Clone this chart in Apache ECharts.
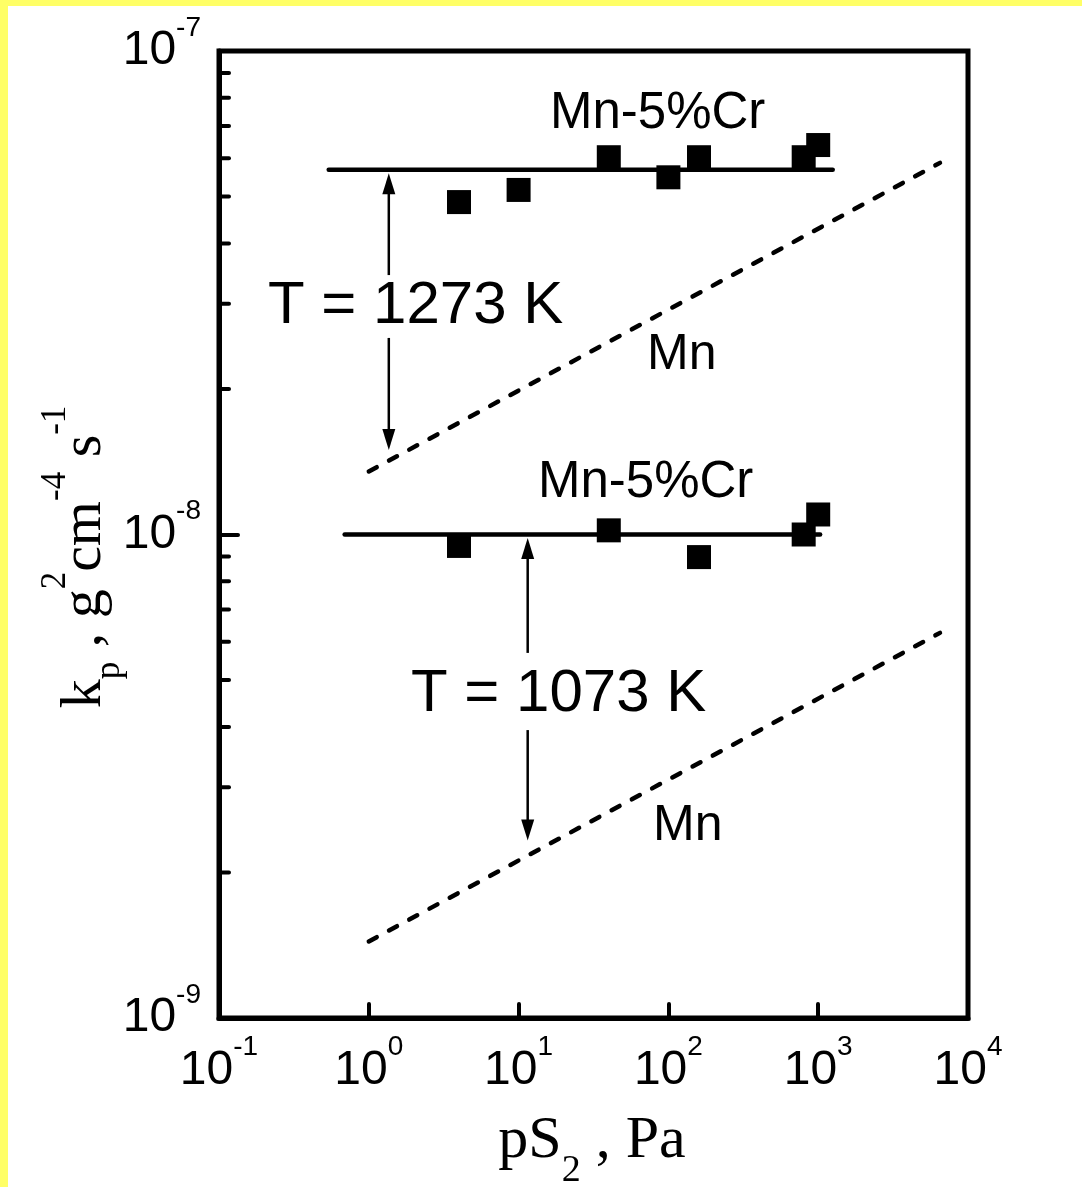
<!DOCTYPE html>
<html>
<head>
<meta charset="utf-8">
<script src="https://cdn.jsdelivr.net/npm/echarts@6/dist/echarts.min.js"></script>
<style>
  html, body { margin: 0; padding: 0; width: 1082px; height: 1187px; overflow: hidden; background: #ffff66; }
  #chart { position: absolute; left: 8px; top: 6px; width: 1074px; height: 1181px; background: #ffffff; }
</style>
</head>
<body>
<div id="chart"></div>
<script>
// Parabolic rate constant of Mn-5%Cr versus sulphur pressure
const pressure1273 = [4, 10, 40, 100, 160, 800, 1000];
const kp1273 = [4.87e-8, 5.16e-8, 6.03e-8, 5.48e-8, 6.03e-8, 6.03e-8, 6.39e-8];
const pressure1073 = [4, 40, 160, 800, 1000];
const kp1073 = [9.47e-9, 1.02e-8, 8.98e-9, 1.0e-8, 1.10e-8];

// Pressure-independent level drawn through the alloy points
const fit1273 = [[0.54, 5.68e-8], [1250, 5.68e-8]];
const fit1073 = [[0.69, 1.0e-8], [1030, 1.0e-8]];

// Pure Mn reference lines (dashed)
const mn1273 = [[1, 1.35e-8], [6500, 5.87e-8]];
const mn1073 = [[1, 1.44e-9], [6500, 6.26e-9]];

// Arrows: [pS2, start k_p, tip k_p]
const arrows = [
  [1.36, 3.44e-8, 5.59e-8],
  [1.36, 2.55e-8, 1.496e-8],
  [11.5, 5.69e-9, 9.83e-9],
  [11.5, 3.94e-9, 2.33e-9]
];

// Axis ranges and the intermediate ticks of the log k_p axis
const xRange = [0.1, 10000];
const yRange = [1e-9, 1e-7];
const minorTicksY = [2e-9, 3e-9, 4e-9, 5e-9, 6e-9, 7e-9, 8e-9, 9e-9,
                     2e-8, 3e-8, 4e-8, 5e-8, 6e-8, 7e-8, 8e-8, 9e-8];

const SANS = 'Liberation Sans, Arial, sans-serif';
const SERIF = 'Liberation Serif, Times New Roman, serif';

function pairs(xs, ys) { return xs.map((x, i) => [x, ys[i]]); }
function powLabel(v) { return '{m|10}{s|' + Math.round(Math.log10(v)) + '}'; }

const chart = echarts.init(document.getElementById('chart'), null, { renderer: 'canvas' });

const lineBase = { type: 'line', symbol: 'none', silent: true, z: 3 };

chart.setOption({
  animation: false,
  backgroundColor: '#ffffff',
  grid: {
    left: 211, top: 45, right: 114, bottom: 169,
    show: true, borderColor: '#000', borderWidth: 5, backgroundColor: 'transparent'
  },
  xAxis: {
    type: 'log', logBase: 10, min: xRange[0], max: xRange[1],
    axisLine: { lineStyle: { color: '#000', width: 5 } },
    axisTick: { inside: true, length: 14, lineStyle: { color: '#000', width: 4, cap: 'round' } },
    splitLine: { show: false },
    axisLabel: {
      margin: 29, formatter: powLabel, color: '#000',
      rich: {
        m: { fontSize: 48, lineHeight: 48, fontFamily: SANS, color: '#000' },
        s: { fontSize: 28, lineHeight: 28, fontFamily: SANS, color: '#000', padding: [0, 0, 48, 0] }
      }
    }
  },
  yAxis: {
    type: 'log', logBase: 10, min: yRange[0], max: yRange[1],
    axisLine: { lineStyle: { color: '#000', width: 5 } },
    axisTick: { inside: true, length: 19, lineStyle: { color: '#000', width: 4, cap: 'round' } },
    splitLine: { show: false },
    axisLabel: {
      margin: 18, formatter: powLabel, color: '#000',
      rich: {
        m: { fontSize: 48, lineHeight: 48, fontFamily: SANS, color: '#000' },
        s: { fontSize: 28, lineHeight: 28, fontFamily: SANS, color: '#000', padding: [0, 0, 46, 0] }
      }
    }
  },
  series: [
    Object.assign({}, lineBase, { name: 'fit 1273 K', data: fit1273,
      lineStyle: { color: '#000', width: 4.5, cap: 'round' } }),
    Object.assign({}, lineBase, { name: 'fit 1073 K', data: fit1073,
      lineStyle: { color: '#000', width: 4.5, cap: 'round' } }),
    Object.assign({}, lineBase, { name: 'Mn 1273 K', data: mn1273,
      lineStyle: { color: '#000', width: 4.5, type: [9, 14], cap: 'round' } }),
    Object.assign({}, lineBase, { name: 'Mn 1073 K', data: mn1073,
      lineStyle: { color: '#000', width: 4.5, type: [9, 14], cap: 'round' } }),
    { type: 'scatter', name: 'Mn-5%Cr 1273 K', data: pairs(pressure1273, kp1273),
      symbol: 'rect', symbolSize: 24, itemStyle: { color: '#000', opacity: 1 }, z: 4, silent: true },
    { type: 'scatter', name: 'Mn-5%Cr 1073 K', data: pairs(pressure1073, kp1073),
      symbol: 'rect', symbolSize: 24, itemStyle: { color: '#000', opacity: 1 }, z: 4, silent: true },
    {
      type: 'custom', name: 'arrows', data: arrows, silent: true, z: 5,
      encode: { x: 0, y: [1, 2] },
      renderItem: function (params, api) {
        const a = api.coord([api.value(0), api.value(1)]);
        const b = api.coord([api.value(0), api.value(2)]);
        const dir = b[1] > a[1] ? 1 : -1;
        const head = 21, half = 6.5;
        const base = b[1] - dir * head;
        return {
          type: 'group',
          children: [
            { type: 'line', shape: { x1: a[0], y1: a[1], x2: b[0], y2: base + dir * 2 },
              style: { stroke: '#000', lineWidth: 2.5 } },
            { type: 'polygon', shape: { points: [[b[0], b[1]], [b[0] - half, base], [b[0] + half, base]] },
              style: { fill: '#000' } }
          ]
        };
      }
    },
    {
      type: 'custom', name: 'minor ticks', silent: true, z: 5,
      data: minorTicksY.map(v => [xRange[0], v]),
      encode: { x: 0, y: 1 },
      renderItem: function (params, api) {
        const p = api.coord([api.value(0), api.value(1)]);
        return { type: 'line', shape: { x1: p[0], y1: p[1], x2: p[0] + 10, y2: p[1] },
                 style: { stroke: '#000', lineWidth: 4, lineCap: 'round' } };
      }
    }
  ],
  graphic: [
    { type: 'text', x: 542, y: 108, style: { text: 'Mn-5%Cr', font: '51px ' + SANS, fill: '#000', align: 'left', verticalAlign: 'middle' } },
    { type: 'text', x: 530, y: 477, style: { text: 'Mn-5%Cr', font: '51px ' + SANS, fill: '#000', align: 'left', verticalAlign: 'middle' } },
    { type: 'text', x: 260, y: 300, style: { text: 'T = 1273 K', font: '60px ' + SANS, fill: '#000', align: 'left', verticalAlign: 'middle' } },
    { type: 'text', x: 403, y: 688, style: { text: 'T = 1073 K', font: '60px ' + SANS, fill: '#000', align: 'left', verticalAlign: 'middle' } },
    { type: 'text', x: 639, y: 349, style: { text: 'Mn', font: '50px ' + SANS, fill: '#000', align: 'left', verticalAlign: 'middle' } },
    { type: 'text', x: 645, y: 820, style: { text: 'Mn', font: '50px ' + SANS, fill: '#000', align: 'left', verticalAlign: 'middle' } },
    {
      type: 'text', x: 584, y: 1135,
      style: {
        text: '{n|pS}{b|2}{n| , Pa}', align: 'center', verticalAlign: 'middle',
        rich: {
          n: { fontSize: 60, lineHeight: 60, fontFamily: SERIF, fill: '#000' },
          b: { fontSize: 38, lineHeight: 38, fontFamily: SERIF, fill: '#000', padding: [61, 0, 0, 0] }
        }
      }
    },
    {
      type: 'text', x: 77, y: 551, rotation: Math.PI / 2,
      style: {
        text: '{n|k}{b|p}{n| , g}{t|2}{n|cm}{t|-4}{n| s}{t|-1}', align: 'center', verticalAlign: 'middle',
        rich: {
          n: { fontSize: 58, lineHeight: 58, fontFamily: SERIF, fill: '#000' },
          b: { fontSize: 35, lineHeight: 35, fontFamily: SERIF, fill: '#000', padding: [50, 0, 0, 0] },
          t: { fontSize: 35, lineHeight: 35, fontFamily: SERIF, fill: '#000', padding: [0, 0, 58, 0] }
        }
      }
    }
  ]
});
</script>
</body>
</html>
